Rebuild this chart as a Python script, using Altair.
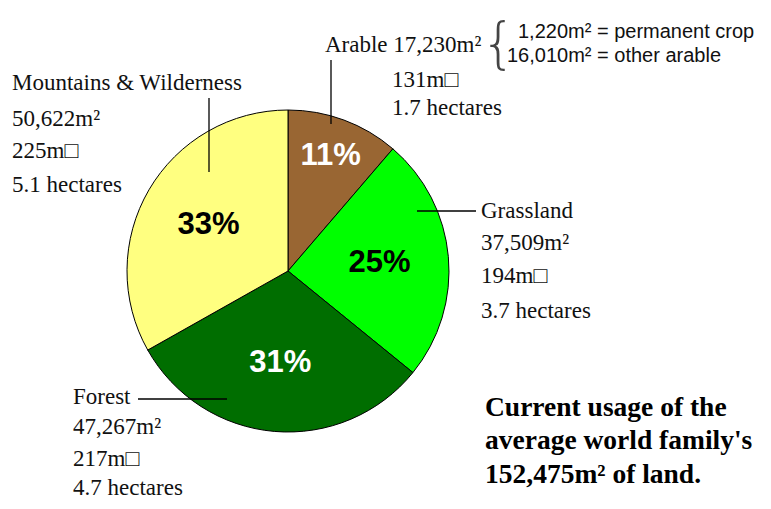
import altair as alt
import pandas as pd

# ---- data ----
categories = ["Arable", "Grassland", "Forest", "Mountains & Wilderness"]
areas = [17230, 37509, 47267, 50622]
pct_labels = ["11%", "25%", "31%", "33%"]
side_labels = ["131m□", "194m□", "217m□", "225m□"]
hectare_labels = ["1.7 hectares", "3.7 hectares", "4.7 hectares", "5.1 hectares"]
arable_breakdown = ["1,220m² = permanent crop", "16,010m² = other arable"]
title_lines = ["Current usage of the", "average world family's", "152,475m² of land."]

# ---- style / layout ----
slice_colors = ["#996633", "#00FF00", "#006E00", "#FFFF80"]
W, H = 755, 493
CX, CY, R = 288, 271, 161

area_labels = [f"{a:,}m²" for a in areas]

pie_df = pd.DataFrame({"category": categories, "area": areas,
                       "pct": pct_labels, "idx": list(range(len(categories)))})

xs = alt.Scale(domain=[8, 8 + W], range=[0, W])
ys = alt.Scale(domain=[8, 8 + H], range=[0, H])

base = alt.Chart(pie_df)
arcs = base.mark_arc(radius=R, stroke="black", strokeWidth=1).encode(
    theta=alt.Theta("area:Q", stack=True),
    color=alt.Color("category:N", scale=alt.Scale(domain=categories, range=slice_colors), legend=None),
    order=alt.Order("idx:Q"),
    x=alt.value(CX - 8), y=alt.value(CY - 8),
)

# percentage labels placed at the middle angle of each slice
pct = base.transform_joinaggregate(
    total="sum(area)"
).transform_window(
    cum="sum(area)", sort=[alt.SortField("idx")], frame=[None, 0]
).transform_calculate(
    mid="(datum.cum - datum.area / 2) / datum.total * 2 * PI",
    lr="datum.category == 'Arable' ? 123 : 92",
).transform_calculate(
    px=f"{CX} + datum.lr * sin(datum.mid)",
    py=f"{CY} - datum.lr * cos(datum.mid)",
).mark_text(font="Liberation Sans", fontSize=31, fontWeight="bold", baseline="middle").encode(
    x=alt.X("px:Q", scale=xs, axis=None),
    y=alt.Y("py:Q", scale=ys, axis=None),
    text="pct:N",
    color=alt.condition(alt.FieldOneOfPredicate(field="category", oneOf=["Arable", "Forest"]),
                        alt.value("white"), alt.value("black")),
)

# annotation texts (serif)
rows = []
m = categories.index("Mountains & Wilderness")
for t, yb in zip([categories[m], area_labels[m], side_labels[m], hectare_labels[m]], [90, 126, 158, 192]):
    rows.append({"x": 12, "y": yb, "t": t})
g = categories.index("Grassland")
for t, yb in zip([categories[g], area_labels[g], side_labels[g], hectare_labels[g]], [218, 250, 283, 318]):
    rows.append({"x": 481, "y": yb, "t": t})
f = categories.index("Forest")
for t, yb in zip([categories[f], area_labels[f], side_labels[f], hectare_labels[f]], [404, 434, 466, 495]):
    rows.append({"x": 73, "y": yb, "t": t})
a = categories.index("Arable")
rows.append({"x": 325, "y": 52, "t": f"{categories[a]} {area_labels[a]}"})
rows.append({"x": 392, "y": 87, "t": side_labels[a]})
rows.append({"x": 392, "y": 115, "t": hectare_labels[a]})
serif = alt.Chart(pd.DataFrame(rows)).mark_text(
    font="Liberation Serif", fontSize=23, align="left", baseline="alphabetic", color="#111"
).encode(x=alt.X("x:Q", scale=xs, axis=None), y=alt.Y("y:Q", scale=ys, axis=None), text="t:N")

sans_df = pd.DataFrame({"x": [518, 507], "y": [38, 62], "t": arable_breakdown})
sans = alt.Chart(sans_df).mark_text(
    font="Liberation Sans", fontSize=20, align="left", baseline="alphabetic", color="#111"
).encode(x=alt.X("x:Q", scale=xs, axis=None), y=alt.Y("y:Q", scale=ys, axis=None), text="t:N")

brace = alt.Chart(pd.DataFrame({"x": [481], "y": [45], "t": ["{"]})).mark_text(
    font="DejaVu Sans", fontSize=55, align="left", baseline="middle", color="#444", fontWeight=200
).encode(x=alt.X("x:Q", scale=xs, axis=None), y=alt.Y("y:Q", scale=ys, axis=None), text="t:N")

title_df = pd.DataFrame({"x": [485] * 3, "y": [416, 449, 483], "t": title_lines})
title = alt.Chart(title_df).mark_text(
    font="Liberation Serif", fontSize=27.5, fontWeight="bold", align="left", baseline="alphabetic", color="black"
).encode(x=alt.X("x:Q", scale=xs, axis=None), y=alt.Y("y:Q", scale=ys, axis=None), text="t:N")

lines_df = pd.DataFrame({
    "x": [209, 331, 417, 138], "y": [98, 60, 211, 399],
    "x2": [209, 331, 476, 227], "y2": [172, 124, 211, 399],
})
rules = alt.Chart(lines_df).mark_rule(color="black", strokeWidth=1.3).encode(
    x=alt.X("x:Q", scale=xs, axis=None), y=alt.Y("y:Q", scale=ys, axis=None),
    x2="x2:Q", y2="y2:Q",
)

chart = alt.layer(arcs, pct, rules, serif, sans, brace, title).properties(
    width=W, height=H, padding=0, autosize=alt.AutoSizeParams(type="none"),
    background="white",
).configure_view(stroke=None)

chart.save("out.html", embed_options={"renderer": "svg", "actions": False})
